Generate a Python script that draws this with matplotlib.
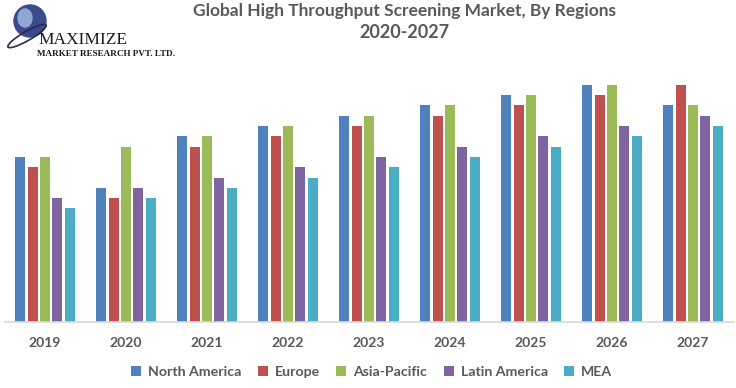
import numpy as np
import matplotlib
matplotlib.use('Agg')
import matplotlib.pyplot as plt
from matplotlib.patches import Circle, Ellipse

# data (arbitrary units)
years = ['2019', '2020', '2021', '2022', '2023', '2024', '2025', '2026', '2027']
regions = ['North America', 'Europe', 'Asia-Pacific', 'Latin America', 'MEA']
north_america = [16, 13, 18, 19, 20, 21, 22, 23, 21]
europe = [15, 12, 17, 18, 19, 20, 21, 22, 23]
asia_pacific = [16, 17, 18, 19, 20, 21, 22, 23, 21]
latin_america = [12, 13, 14, 15, 16, 17, 18, 19, 20]
mea = [11, 12, 13, 14, 15, 16, 17, 18, 19]
series = [north_america, europe, asia_pacific, latin_america, mea]
colors = ['#4F81BD', '#C0504D', '#9BBB59', '#8064A2', '#4BACC6']

text_col = '#595959'
plt.rcParams['font.family'] = ['Lato', 'DejaVu Sans']

fig = plt.figure(figsize=(7.36, 3.88), dpi=100)
ax = fig.add_axes([4.5 / 736, 1 - 322 / 388, 729 / 736, 258 / 388])

x = np.arange(len(years))
width = 0.123
step = 0.153
for i, (vals, c) in enumerate(zip(series, colors)):
    ax.bar(x + (i - 2) * step, vals, width, color=c, label=regions[i], zorder=2)

ax.set_xlim(-0.5, len(years) - 0.5)
ax.set_ylim(0, 25)
ax.set_yticks([])
ax.set_xticks(x)
ax.set_xticklabels(years, fontsize=10, fontweight='bold', color=text_col)
ax.tick_params(axis='x', length=0, pad=11)
for s in ['top', 'right', 'left']:
    ax.spines[s].set_visible(False)
ax.spines['bottom'].set_color('#D9D9D9')
ax.spines['bottom'].set_linewidth(1.2)

fig.text(0.549, 1 - 11 / 388, 'Global High Throughput Screening Market, By Regions',
         ha='center', va='center', fontsize=12.5, fontweight='bold', color=text_col)
fig.text(0.549, 1 - 32 / 388, '2020-2027',
         ha='center', va='center', fontsize=13, fontweight='bold', color=text_col)

leg = fig.legend(loc='center', bbox_to_anchor=(0.505, 1 - 372 / 388), ncol=5, frameon=False,
                 handlelength=0.7, handleheight=0.7, handletextpad=0.5, columnspacing=1.15,
                 prop={'size': 10.2, 'weight': 'bold'})
for t in leg.get_texts():
    t.set_color(text_col)

# logo
lax = fig.add_axes([0, 1 - 70 / 388, 200 / 736, 70 / 388])
lax.set_xlim(0, 200)
lax.set_ylim(70, 0)
lax.axis('off')
lax.add_patch(Circle((30, 21), 16, color='#3B4A8C'))
lax.add_patch(Ellipse((25, 18), 14, 18, color='#8FA6D6'))
lax.add_patch(Ellipse((27, 36), 44, 9, angle=-30, fill=False, ec='#2A2A4A', lw=1.2))
lax.text(38, 40, 'MAXIMIZE', fontsize=12.5, family='Liberation Serif',
         color='#1A1A1A', va='center', ha='left')
lax.text(37, 54, 'MARKET RESEARCH PVT. LTD.', fontsize=6.6, family='Liberation Serif',
         fontweight='bold', color='#1A1A1A', va='center', ha='left')

fig.savefig('out.png', dpi=100)
